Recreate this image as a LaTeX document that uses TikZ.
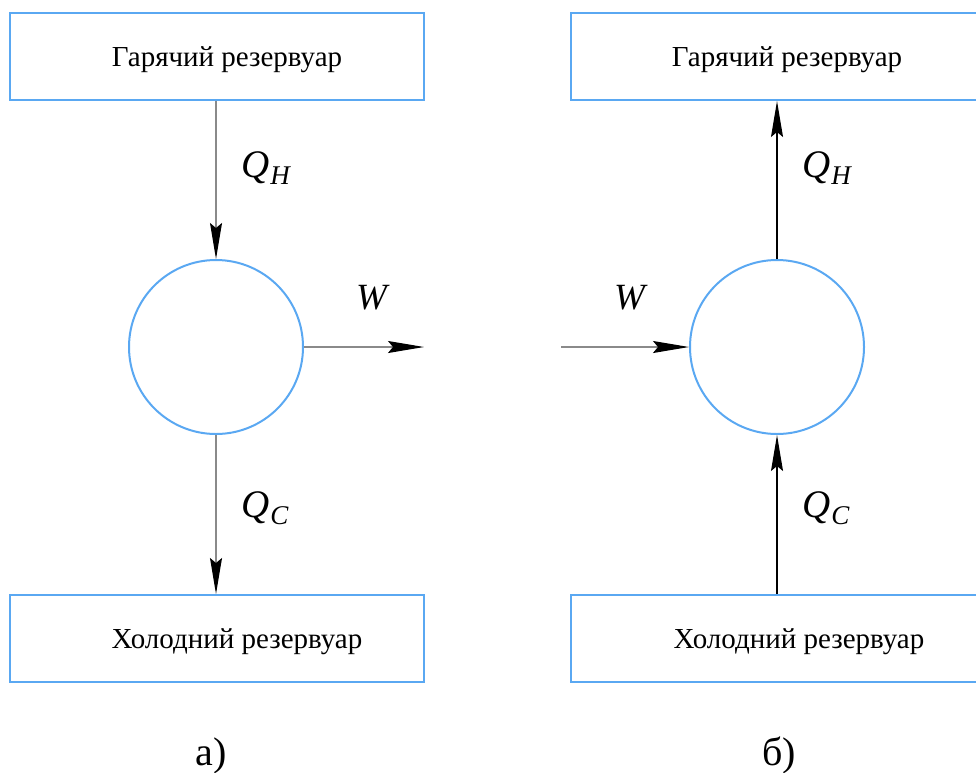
\documentclass[tikz,border=0pt]{standalone}
\usepackage{fontspec}
\setmainfont{Liberation Serif}
\usetikzlibrary{arrows.meta}
\definecolor{bblue}{HTML}{5AA8F2}
\definecolor{lgray}{HTML}{8A8A8A}
\tikzset{
  resbox/.style={draw=bblue, line width=2pt, minimum width=414pt, minimum height=87pt, inner sep=0pt},
  boxtext/.style={font=\fontsize{29}{32}\selectfont, inner sep=0pt, anchor=base},
  engine/.style={circle, draw=bblue, line width=2pt, minimum size=174pt, inner sep=0pt},
  harrow/.style={line width=1.3pt, -{Stealth[length=36pt, width=12pt, inset=5pt, color=black]}},
  qlab/.style={font=\fontsize{39}{42}\selectfont\itshape, inner sep=0pt, anchor=base west},
  wlab/.style={font=\fontsize{37}{40}\selectfont\itshape, inner sep=0pt, anchor=base west},
  caplab/.style={font=\fontsize{40}{44}\selectfont, inner sep=0pt, anchor=base}
}
\newcommand{\qsym}[1]{Q\hspace{1pt}\raisebox{-0.18em}{\fontsize{27}{29}\selectfont #1}}
\begin{document}
\begin{tikzpicture}[x=1pt, y=-1pt]
\useasboundingbox (0,0) rectangle (976,772);
% left
\node[resbox] (hotL) at (217,56.5) {};
\node[boxtext] (hotLt) at (227,66) {Гарячий резервуар};
\node[resbox] (coldL) at (217,638.5) {};
\node[boxtext] (coldLt) at (237,648) {Холодний резервуар};
\node[engine] (engL) at (216,347) {};
\coordinate (wL) at (424,347);
\draw[harrow, draw=lgray] (hotL.south -| engL.north) -- (engL.north);
\draw[harrow, draw=lgray] (engL.south) -- (coldL.north -| engL.south);
\draw[harrow, draw=lgray] (engL.east) -- (wL);
\node[qlab] (qhL) at (241,177) {\qsym{H}};
\node[qlab] (qcL) at (241,517) {\qsym{C}};
\node[wlab] (wLl) at (356,309) {W};
\node[caplab] (capa) at (211,765) {a)};
% right
\node[resbox] (hotR) at (778,56.5) {};
\node[boxtext] (hotRt) at (787,66) {Гарячий резервуар};
\node[resbox] (coldR) at (778,638.5) {};
\node[boxtext] (coldRt) at (799,648) {Холодний резервуар};
\node[engine] (engR) at (777,347) {};
\coordinate (wR) at (561,347);
\draw[harrow, draw=black] (engR.north) -- (hotR.south -| engR.north);
\draw[harrow, draw=black] (coldR.north -| engR.south) -- (engR.south);
\draw[harrow, draw=lgray] (wR) -- (engR.west);
\node[qlab] (qhR) at (802,177) {\qsym{H}};
\node[qlab] (qcR) at (802,517) {\qsym{C}};
\node[wlab] (wRl) at (614,309) {W};
\node[caplab] (capb) at (779,765) {б)};
\end{tikzpicture}
\end{document}
